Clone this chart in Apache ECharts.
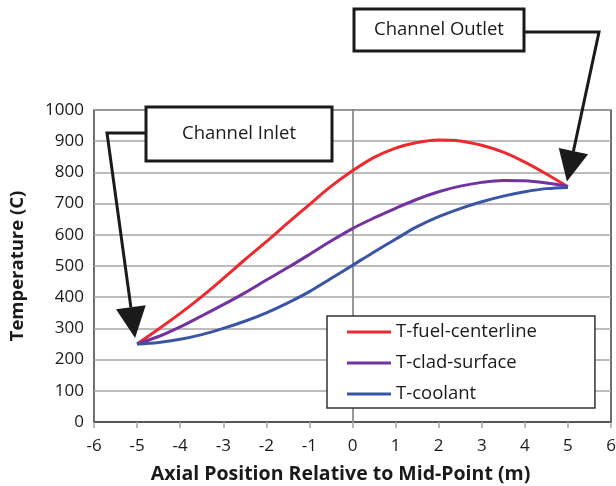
<!DOCTYPE html>
<html>
<head>
<meta charset="utf-8">
<script src="https://cdn.jsdelivr.net/npm/echarts@6/dist/echarts.min.js"></script>
<style>
  html, body { margin: 0; padding: 0; background: #fff; }
  #chart { width: 616px; height: 486px; }
</style>
</head>
<body>
<div id="chart"></div>
<script>
// Axial positions along the channel (m, relative to mid-point)
const positions = [-5, -4.5, -4, -3.5, -3, -2.5, -2, -1.5, -1, -0.5, 0, 0.5, 1, 1.5, 2, 2.5, 3, 3.5, 4, 4.5, 5];

// Temperatures (C) at each axial position
const fuelCenterline = [250, 298, 348, 402, 460, 520, 578, 638, 697, 755, 805, 848, 878, 896, 904, 901, 887, 865, 833, 795, 754];
const cladSurface    = [250, 274, 305, 340, 376, 414, 455, 495, 537, 580, 620, 654, 685, 714, 738, 756, 768, 774, 773, 766, 755];
const coolant        = [250, 255, 265, 280, 300, 323, 350, 382, 418, 460, 502, 545, 586, 626, 658, 684, 706, 724, 738, 748, 752];

const seriesNames = ['T-fuel-centerline', 'T-clad-surface', 'T-coolant'];
const seriesColors = ['#ee2a2e', '#7232a0', '#3a55a6'];

// Axis ranges and ticks
const xMin = -6, xMax = 6, xStep = 1;
const yMin = 0, yMax = 1000, yStep = 100;

// Callout labels and the points they refer to
const inletLabel = 'Channel Inlet';
const outletLabel = 'Channel Outlet';
const inletPoint = [positions[0], coolant[0]];
const outletPoint = [positions[positions.length - 1], coolant[coolant.length - 1]];

const FONT = 'Open Sans';

function pairs(ys) { return positions.map((x, i) => [x, ys[i]]); }

const chart = echarts.init(document.getElementById('chart'), null, { renderer: 'canvas' });

const lineSeries = [fuelCenterline, cladSurface, coolant].map((ys, i) => ({
  name: seriesNames[i],
  type: 'line',
  data: pairs(ys),
  smooth: 0.35,
  showSymbol: false,
  symbol: 'none',
  lineStyle: { color: seriesColors[i], width: 3 },
  itemStyle: { color: seriesColors[i] },
  z: 3 + i
}));

// vertical reference line at the mid-point
lineSeries[0].markLine = {
  silent: true,
  symbol: ['none', 'none'],
  label: { show: false },
  lineStyle: { color: '#a6a6a6', width: 1.5, type: 'solid' },
  data: [{ xAxis: 0 }],
  z: 1
};

chart.setOption({
  animation: false,
  backgroundColor: '#fff',
  grid: {
    left: 94, right: 5, top: 110, bottom: 64,
    show: true, borderColor: '#404040', borderWidth: 1.5,
    containLabel: false, outerBoundsMode: 'none'
  },
  legend: {
    orient: 'vertical',
    left: 327,
    top: 316,
    icon: 'rect',
    itemWidth: 44,
    itemHeight: 3,
    itemGap: 11,
    padding: [6, 58, 4, 20],
    backgroundColor: '#fff',
    borderColor: '#333',
    borderWidth: 1.5,
    borderRadius: 0,
    textStyle: { fontFamily: FONT, fontSize: 18.5, color: '#1a1a1a', lineHeight: 20 },
    data: seriesNames
  },
  xAxis: {
    type: 'value',
    min: xMin, max: xMax, interval: xStep,
    name: 'Axial Position Relative to Mid-Point (m)',
    nameLocation: 'middle',
    nameGap: 42,
    nameTextStyle: { fontFamily: FONT, fontSize: 19.5, fontWeight: 'bold', color: '#1a1a1a', padding: [0, 24, 0, 0] },
    axisLine: { show: true, onZero: false, lineStyle: { color: '#404040', width: 1.5 } },
    axisTick: { show: true, length: 6, lineStyle: { color: '#a6a6a6', width: 1.5 } },
    axisLabel: { fontFamily: FONT, fontSize: 17, color: '#1a1a1a', margin: 16 },
    splitLine: { show: false }
  },
  yAxis: {
    type: 'value',
    min: yMin, max: yMax, interval: yStep,
    name: 'Temperature (C)',
    nameLocation: 'middle',
    nameGap: 67,
    nameRotate: 90,
    nameTextStyle: { fontFamily: FONT, fontSize: 18.5, fontWeight: 'bold', color: '#1a1a1a' },
    axisLine: { show: true, lineStyle: { color: '#404040', width: 1.5 } },
    axisTick: { show: false },
    axisLabel: { fontFamily: FONT, fontSize: 17, color: '#1a1a1a', margin: 10, formatter: (v) => String(v) },
    splitLine: { show: true, lineStyle: { color: '#a6a6a6', width: 1.5 } }
  },
  series: lineSeries
});

// Callout boxes with leader lines and arrowheads pointing at the channel ends
function arrowHead(tip, from, len, half) {
  const dx = tip[0] - from[0], dy = tip[1] - from[1];
  const d = Math.hypot(dx, dy);
  const ux = dx / d, uy = dy / d;
  const bx = tip[0] - ux * len, by = tip[1] - uy * len;
  return {
    base: [bx, by],
    points: [tip, [bx - uy * half, by + ux * half], [bx + uy * half, by - ux * half]]
  };
}

function callout(box, label, elbow, anchorSide, tip) {
  const anchorY = box.y + box.h * (anchorSide === 'left' ? 0.48 : 0.55);
  const anchorX = anchorSide === 'left' ? box.x : box.x + box.w;
  const head = arrowHead(tip, elbow, 31, 15);
  return [
    { type: 'polyline', z: 20, shape: { points: [[anchorX, anchorY], elbow, head.base] },
      style: { stroke: '#1a1a1a', lineWidth: 3, fill: null } },
    { type: 'polygon', z: 20, shape: { points: head.points }, style: { fill: '#1a1a1a' } },
    { type: 'rect', z: 21, shape: { x: box.x, y: box.y, width: box.w, height: box.h },
      style: { fill: '#fff', stroke: '#1a1a1a', lineWidth: 3 } },
    { type: 'text', z: 22, x: box.x + box.w / 2, y: box.y + box.h / 2,
      style: { text: label, fontFamily: FONT, fontSize: 18.5, fill: '#1a1a1a', align: 'center', verticalAlign: 'middle' } }
  ];
}

const inPx = chart.convertToPixel({ gridIndex: 0 }, inletPoint);
const outPx = chart.convertToPixel({ gridIndex: 0 }, outletPoint);

chart.setOption({
  graphic: [
    ...callout({ x: 146, y: 107, w: 186, h: 54 }, inletLabel, [107, 133], 'left', [inPx[0] - 2, inPx[1] - 6]),
    ...callout({ x: 354, y: 9, w: 170, h: 42 }, outletLabel, [599, 32], 'right', [outPx[0] - 1, outPx[1] - 6])
  ]
});
</script>
</body>
</html>
